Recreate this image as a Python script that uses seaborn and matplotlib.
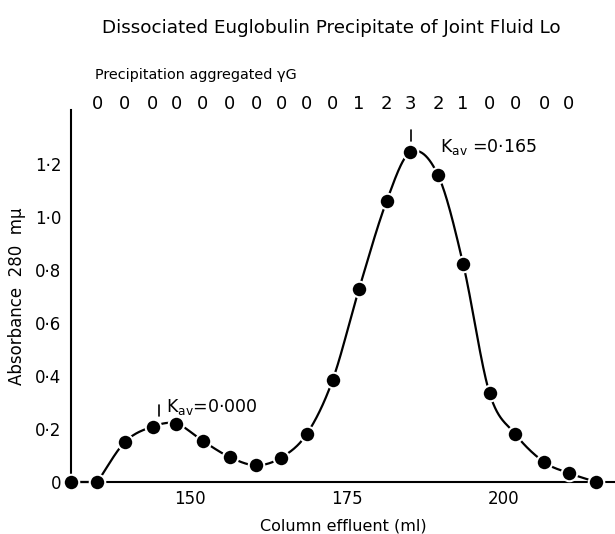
import numpy as np
import pandas as pd
import matplotlib
matplotlib.use("Agg")
import matplotlib.pyplot as plt
import seaborn as sns

# ---- data ----
effluent_ml = [131.0, 135.2, 139.6, 144.0, 147.8, 152.0, 156.3, 160.5, 164.5, 168.6,
               172.7, 176.9, 181.3, 185.1, 189.5, 193.5, 197.7, 201.8, 206.4, 210.3, 214.7]
absorbance = [0.0, 0.0, 0.151, 0.209, 0.220, 0.155, 0.094, 0.063, 0.092, 0.182,
              0.385, 0.728, 1.060, 1.245, 1.158, 0.823, 0.336, 0.181, 0.075, 0.034, 0.0]
precip_scores = ["0", "0", "0", "0", "0", "0", "0", "0", "0", "0",
                 "1", "2", "3", "2", "1", "0", "0", "0", "0"]   # fractions 2..20
x_ticks = [150, 175, 200]
y_ticks = [0, 0.2, 0.4, 0.6, 0.8, 1.0, 1.2]
y_tick_labels = ["0", "0·2", "0·4", "0·6", "0·8", "1·0", "1·2"]
kav_labels = ["0·000", "0·165"]
kav_positions = [145.1, 185.2]

title = "Dissociated Euglobulin Precipitate of Joint Fluid Lo"
top_caption = "Precipitation aggregated γG"
xlabel = "Column effluent (ml)"
ylabel = "Absorbance  280  mμ"


def smooth_curve(x, y, xn):
    """Catmull-Rom style Hermite curve through (x, y) (rendering only)."""
    x = np.asarray(x, float); y = np.asarray(y, float)
    n = len(x); h = np.diff(x)
    d = np.zeros(n)
    d[1:-1] = (y[2:] - y[:-2]) / (x[2:] - x[:-2])
    d[0] = (y[1] - y[0]) / h[0]
    d[-1] = (y[-1] - y[-2]) / h[-1]
    idx = np.clip(np.searchsorted(x, xn) - 1, 0, n - 2)
    t = (xn - x[idx]) / h[idx]
    h00 = 2 * t**3 - 3 * t**2 + 1; h10 = t**3 - 2 * t**2 + t
    h01 = -2 * t**3 + 3 * t**2; h11 = t**3 - t**2
    return h00 * y[idx] + h10 * h[idx] * d[idx] + h01 * y[idx + 1] + h11 * h[idx] * d[idx + 1]


sns.set_style("white")
plt.rcParams['font.family'] = ['DejaVu Sans']
plt.rcParams['mathtext.fontset'] = 'dejavusans'
plt.rcParams['text.color'] = 'black'
plt.rcParams['axes.labelcolor'] = 'black'
plt.rcParams['xtick.color'] = 'black'
plt.rcParams['ytick.color'] = 'black'

fig = plt.figure(figsize=(6.15, 5.34), dpi=100)
ax = fig.add_axes([71 / 615, 52 / 534, (615 - 71) / 615, (482 - 110) / 534])

# smooth rendering of the line through the measured points
xs = np.array(effluent_ml); ys = np.array(absorbance)
xn = np.linspace(xs[1], xs[-1], 800)
curve = pd.DataFrame({"x": np.concatenate([xs[:1], xn]),
                      "y": np.concatenate([ys[:1], smooth_curve(xs[1:], ys[1:], xn)])})
sns.lineplot(data=curve, x="x", y="y", ax=ax, color="black", lw=1.6,
             estimator=None, sort=False, clip_on=False)
pts = pd.DataFrame({"x": effluent_ml, "y": absorbance})
sns.scatterplot(data=pts, x="x", y="y", ax=ax, s=125, color="black",
                edgecolor="white", linewidth=1.5, clip_on=False, zorder=5)

ax.set_xlim(131.0, 217.7)
ax.set_ylim(0, 1.404)
for s in ["top", "right"]:
    ax.spines[s].set_visible(False)
for s in ["left", "bottom"]:
    ax.spines[s].set_linewidth(1.5)
    ax.spines[s].set_color("black")

ax.set_xticks(x_ticks)
ax.set_xticklabels([str(v) for v in x_ticks], fontsize=12)
ax.tick_params(axis="x", direction="in", length=9, width=1.2, pad=6)
ax.set_yticks(y_ticks)
ax.set_yticklabels(y_tick_labels, fontsize=12)
ax.tick_params(axis="y", direction="in", length=2, width=0.8, pad=7)
ax.set_xlabel(xlabel, fontsize=11.5, labelpad=7)
ax.set_ylabel(ylabel, fontsize=12, labelpad=6)

# precipitation scores above fractions 2..20
for xv, lab in zip(effluent_ml[1:20], precip_scores):
    ax.text(xv, 1.426, lab, ha="center", va="center", fontsize=13, clip_on=False)

# Kav annotations
ax.plot([kav_positions[0]] * 2, [0.25, 0.29], color="black", lw=1.2)
ax.text(kav_positions[0] + 1.1, 0.282, r"K$_{\mathrm{av}}$=" + kav_labels[0],
        ha="left", va="center", fontsize=12.5)
ax.plot([kav_positions[1]] * 2, [1.286, 1.33], color="black", lw=1.2, clip_on=False)
ax.text(189.8, 1.264, r"K$_{\mathrm{av}}$ =" + kav_labels[1],
        ha="left", va="center", fontsize=12.5)

fig.text(331 / 615, 1 - 28 / 534, title, ha="center", va="center", fontsize=13.2)
fig.text(95 / 615, 1 - 75 / 534, top_caption, ha="left", va="center", fontsize=10.4)

fig.savefig("out.png", dpi=100, facecolor="white")
